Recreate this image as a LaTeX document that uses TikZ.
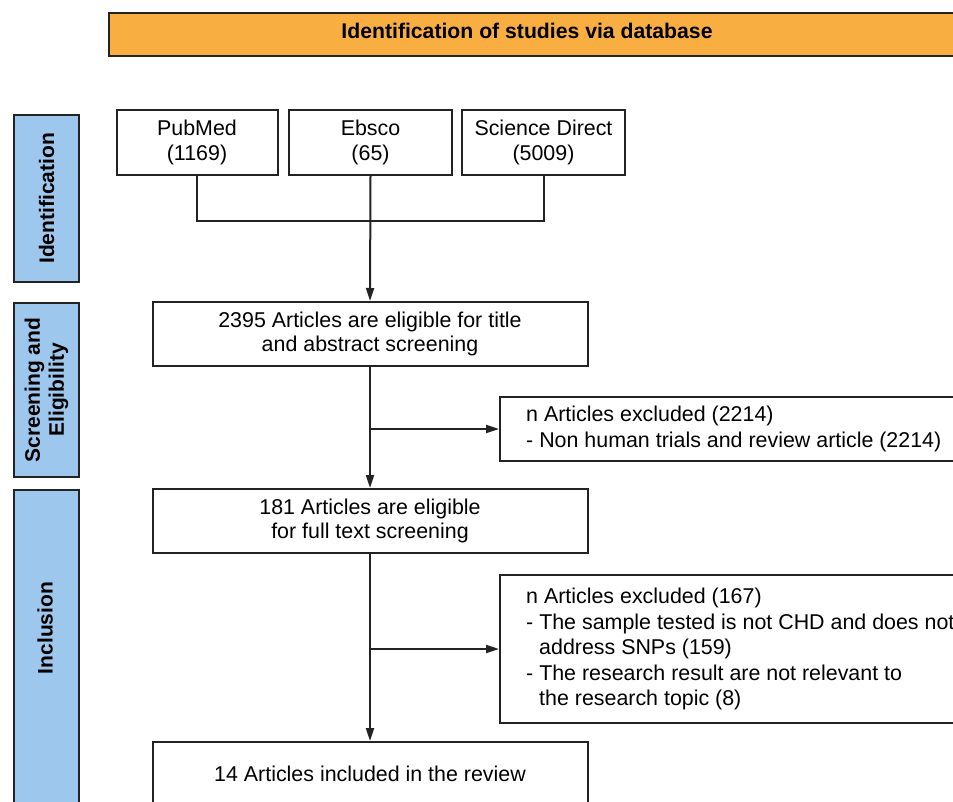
\documentclass[tikz,border=0pt]{standalone}
\usepackage{fontspec}
\setmainfont{Liberation Sans}
\usetikzlibrary{arrows.meta}
\definecolor{hdrorange}{RGB}{249,174,66}
\definecolor{sideblue}{RGB}{157,199,236}
\definecolor{edgecol}{RGB}{35,35,35}
\begin{document}
\begin{tikzpicture}[x=1pt,y=-1pt,
  box/.style={draw=edgecol,line width=2pt,fill=white,inner sep=0pt,align=center,
    font=\fontsize{21.4}{24.8}\selectfont},
  sidebox/.style={draw=edgecol,line width=2pt,fill=sideblue,inner sep=0pt,
    minimum width=65pt},
  sidetext/.style={rotate=90,align=center,font=\fontsize{21}{24}\selectfont\bfseries},
  hdrbox/.style={draw=edgecol,line width=2pt,fill=hdrorange,inner sep=0pt},
  plaintext/.style={inner sep=0pt,align=left,font=\fontsize{21.4}{25.5}\selectfont},
  conn/.style={draw=edgecol,line width=2pt},
  arr/.style={conn,-{Triangle[length=13pt,width=8pt]}}
]
\clip (0,0) rectangle (953,802);
\fill[white] (0,0) rectangle (953,802);
% header
\node[hdrbox,anchor=north west,minimum width=870pt,minimum height=43pt] (hdr) at (108,12) {};
\node[inner sep=0pt,font=\fontsize{21.2}{24}\selectfont\bfseries] (hdrtxt) at (527,31) {Identification of studies via database};
% side boxes
\node[sidebox,anchor=north west,minimum height=167pt] (sid1) at (13,114) {};
\node[sidetext] (sidt1) at (sid1.center) {Identification};
\node[sidebox,anchor=north west,minimum height=174pt] (sid2) at (13,302) {};
\node[sidetext] (sidt2) at (sid2.center) {Screening and\\Eligibility};
\node[sidebox,anchor=north west,minimum height=340pt] (sid3) at (13,489) {};
\node[sidetext] (sidt3) at (45,628) {Inclusion};
% database boxes
\node[box,minimum width=161pt,minimum height=65pt] (pub) at (197,142.5) {PubMed\\(1169)};
\node[box,minimum width=163pt,minimum height=65pt] (eb) at (370.5,142.5) {Ebsco\\(65)};
\node[box,minimum width=163pt,minimum height=65pt] (sd) at (543.5,142.5) {Science Direct\\(5009)};
% main flow
\node[box,minimum width=435pt,minimum height=64pt] (b1) at (370,334) {2395 Articles are eligible for title\\and abstract screening};
\node[box,minimum width=435pt,minimum height=64pt] (b2) at (370,521) {181 Articles are eligible\\for full text screening};
\node[box,minimum width=435pt,minimum height=64pt] (b3) at (370,774) {14 Articles included in the review};
% exclusion boxes
\node[box,anchor=west,minimum width=480pt,minimum height=64pt] (ex1) at (499,429) {};
\node[plaintext,anchor=west] (ex1t) at (526,429) {n Articles excluded (2214)\\- Non human trials and review article (2214)};
\node[box,anchor=west,minimum width=480pt,minimum height=148pt] (ex2) at (499,649) {};
\node[plaintext,anchor=west] (ex2t) at (526,649) {n Articles excluded (167)\\- The sample tested is not CHD and does not\\\hspace*{13pt}address SNPs (159)\\- The research result are not relevant to\\\hspace*{13pt}the research topic (8)};
% connectors
\coordinate (hl) at (0,221);
\draw[conn] (pub.south) |- (sd.south |- hl) -- (sd.south);
\draw[arr] (eb.south) -- (b1.north);
\draw[arr] (b1.south) -- (b2.north);
\draw[arr] (b1.south |- ex1.west) -- (ex1.west);
\draw[arr] (b2.south) -- (b3.north);
\draw[arr] (b2.south |- ex2.west) -- (ex2.west);
\end{tikzpicture}
\end{document}
